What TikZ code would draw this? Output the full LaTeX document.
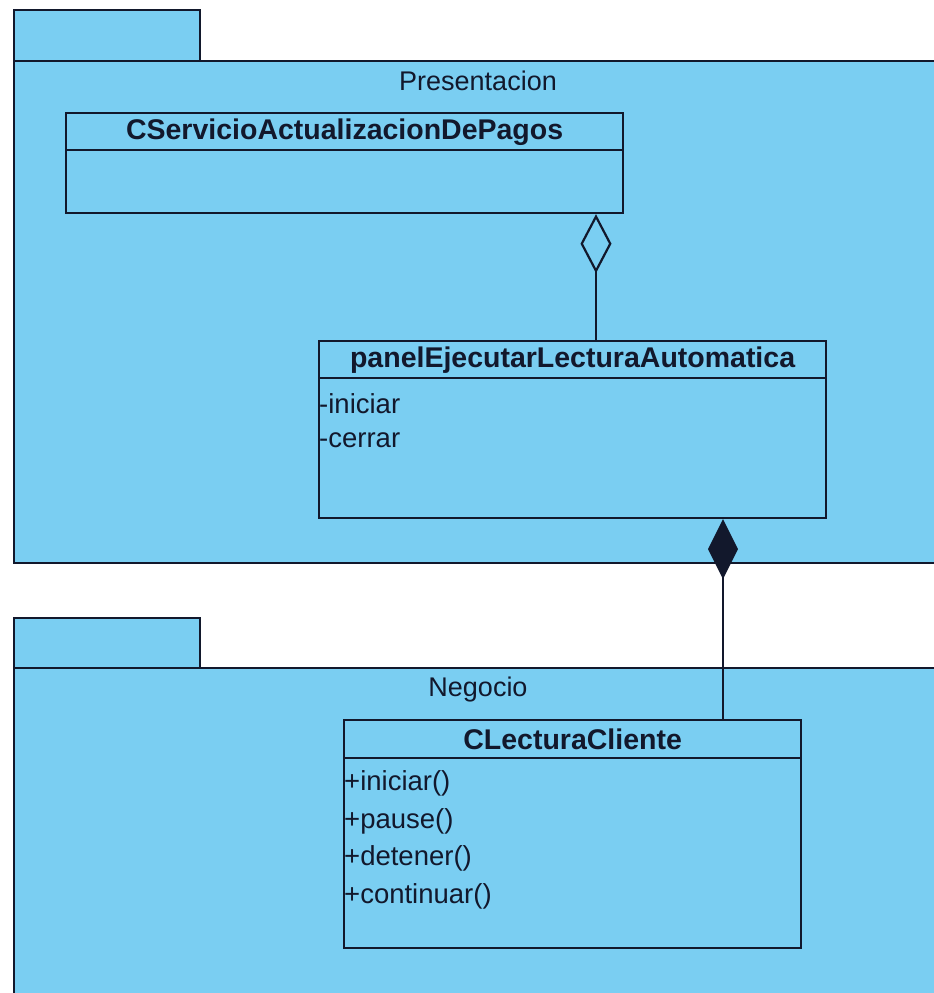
\documentclass[tikz,border=0pt]{standalone}
\usepackage{fontspec}
\setmainfont{Liberation Sans}
\usetikzlibrary{arrows.meta}
\definecolor{pkgblue}{RGB}{122,206,242}
\definecolor{ink}{RGB}{18,24,44}
\tikzset{
  pkg/.style={draw=ink, fill=pkgblue, line width=2.2pt},
  cls/.style={draw=ink, fill=pkgblue, line width=2.2pt, rectangle, inner sep=0pt, anchor=north west},
  clsname/.style={font=\fontsize{28.5}{32}\selectfont\bfseries, text=ink, inner sep=0pt},
  member/.style={font=\fontsize{27.5}{32}\selectfont, text=ink, inner sep=0pt, anchor=west},
  pkgname/.style={font=\fontsize{27}{32}\selectfont, text=ink, inner sep=0pt},
  link/.style={draw=ink, line width=2.2pt}
}
\begin{document}
\begin{tikzpicture}[x=1pt,y=-1pt]
\useasboundingbox (0,0) rectangle (934,993);
\clip (0,0) rectangle (934,993);

% package Presentacion
\path[pkg] (14,10) rectangle (200,61);
\path[pkg] (14,61) rectangle (960,563);
\node[pkgname] (presLbl) at (478,81) {Presentacion};

% package Negocio
\path[pkg] (14,618) rectangle (200,668);
\path[pkg] (14,668) rectangle (960,1010);
\node[pkgname] (negLbl) at (478,690) {Negocio};

% class CServicioActualizacionDePagos
\node[cls, minimum width=557pt, minimum height=100pt] (serv) at (65,112) {};
\draw[link] ([yshift=-38pt]serv.north west) -- ([yshift=-38pt]serv.north east);
\node[clsname] (servT) at ([yshift=-20pt]serv.north) {CServicioActualizacionDePagos};

% class panelEjecutarLecturaAutomatica
\node[cls, minimum width=507pt, minimum height=177pt] (panel) at (318,340) {};
\draw[link] ([yshift=-38pt]panel.north west) -- ([yshift=-38pt]panel.north east);
\node[clsname] (panelT) at ([yshift=-20pt]panel.north) {panelEjecutarLecturaAutomatica};
\node[member] (pa1) at ([xshift=1pt,yshift=-64pt]panel.north west) {-iniciar};
\node[member] (pa2) at ([xshift=1pt,yshift=-100pt]panel.north west) {-cerrar};

% class CLecturaCliente
\node[cls, minimum width=457pt, minimum height=228pt] (lect) at (343,719) {};
\draw[link] ([yshift=-39pt]lect.north west) -- ([yshift=-39pt]lect.north east);
\node[clsname] (lectT) at ([yshift=-20pt]lect.north) {CLecturaCliente};
\node[member] (lm1) at ([xshift=1pt,yshift=-64pt]lect.north west) {+iniciar()};
\node[member] (lm2) at ([xshift=1pt,yshift=-102pt]lect.north west) {+pause()};
\node[member] (lm3) at ([xshift=1pt,yshift=-139pt]lect.north west) {+detener()};
\node[member] (lm4) at ([xshift=1pt,yshift=-177pt]lect.north west) {+continuar()};

% aggregation: panel -> CServicio
\draw[link, -{Diamond[open, length=59pt, width=31pt, line width=2.2pt]}]
  (panel.north -| 596,0) -- (serv.south -| 596,0);

% composition: CLectura -> panel
\draw[link, -{Diamond[length=60pt, width=30pt]}]
  (lect.north -| 723,0) -- (panel.south -| 723,0);
\end{tikzpicture}
\end{document}
